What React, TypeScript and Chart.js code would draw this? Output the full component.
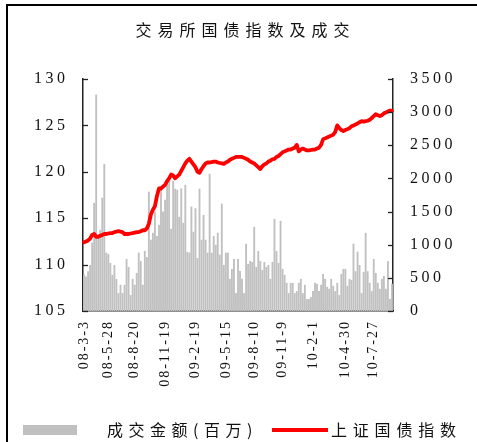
import React, { useEffect, useRef } from 'react';
import { Chart, registerables } from 'chart.js';

Chart.register(...registerables);

// x-axis tick labels (dates) and the category index at which each one sits
const tickLabels = ['08-3-3', '08-5-28', '08-8-20', '08-11-19', '09-2-19', '09-5-15', '09-8-10', '09-11-9', '10-2-1', '10-4-30', '10-7-27'];
const tickIndex = [0, 12, 25, 40, 55, 70, 84, 98, 113, 129, 143];

// 成交金额 (百万) — right axis
const turnover = [
  550, 520, 600, 695, 1030, 1630, 3265, 1130, 1225, 1710, 2220, 880, 860, 725, 545, 695, 485, 270, 395, 270,
  395, 785, 665, 240, 485, 395, 575, 880, 755, 395, 905, 815, 1800, 1075, 1180, 1500, 1130, 1300,
  1875, 1500, 1680, 1935, 1965, 1240, 1965, 1845, 1830, 1420, 1850, 1330, 1905, 890, 880, 1575, 1195, 1550,
  800, 1845, 1075, 1450, 1075, 880, 2070, 880, 1130, 1000, 1180, 850, 1620, 695, 880, 880, 485, 635, 785, 270,
  785, 605, 485, 270, 1015, 710, 755, 740, 1270, 665, 905, 755, 620, 740, 665, 695, 485, 740, 1390, 905,
  725, 1360, 635, 545, 425, 270, 425, 425, 270, 300, 425, 485, 270, 395, 180, 180, 210, 300, 425, 410,
  300, 395, 560, 485, 365, 335, 485, 380, 300, 425, 240, 560, 635, 635, 380, 485, 470, 1015, 600, 895,
  695, 270, 590, 1180, 600, 425, 300, 785, 575, 425, 335, 485, 530, 335, 755, 180, 410,
];

// 上证国债指数 — left axis
const bondIndex = [
  112.4, 112.5, 112.6, 112.8, 113.2, 113.3, 113.0, 113.0, 113.1, 113.2, 113.3, 113.3, 113.35, 113.4, 113.4, 113.5, 113.55, 113.6, 113.55, 113.5,
  113.3, 113.3, 113.3, 113.35, 113.4, 113.45, 113.5, 113.5, 113.6, 113.7, 113.7, 113.9, 114.4, 115.4, 115.9, 116.3, 117.4, 118.2,
  118.2, 118.4, 118.6, 119.0, 119.3, 119.7, 119.6, 119.3, 119.5, 119.7, 120.1, 120.5, 120.9, 121.2, 121.4, 121.1, 120.8, 120.5, 120.0, 119.9,
  120.3, 120.6, 120.9, 121.0, 121.0, 121.05, 121.1, 121.1, 121.0, 120.95, 120.9, 120.85, 121.0, 121.1, 121.3, 121.4, 121.5, 121.6,
  121.6, 121.6, 121.6, 121.5, 121.4, 121.3, 121.1, 121.0, 120.9, 120.7, 120.5, 120.3, 120.6, 120.8, 120.9, 121.1, 121.2, 121.35, 121.4, 121.6,
  121.7, 121.9, 122.1, 122.2, 122.3, 122.4, 122.4, 122.5, 122.6, 122.9, 122.2, 122.4, 122.5, 122.4, 122.3, 122.3, 122.35, 122.4,
  122.4, 122.5, 122.6, 122.9, 123.5, 123.6, 123.7, 123.8, 123.9, 124.0, 124.3, 125.0, 124.7, 124.5, 124.4, 124.5, 124.6, 124.7, 124.9, 125.0,
  125.1, 125.2, 125.35, 125.45, 125.4, 125.45, 125.5, 125.6, 125.8, 126.0, 126.2, 126.1, 126.0, 126.1, 126.3, 126.4, 126.5, 126.6, 126.6,
];

const categories = turnover.map((_, i) => {
  const j = tickIndex.indexOf(i);
  return j >= 0 ? tickLabels[j] : '';
});

const AXIS = '#222';
const TEXT = '#111';

const axisPlugin = {
  id: 'axisStyle',
  beforeDraw(chart: any) {
    chart.ctx.letterSpacing = '3.5px';
  },
  afterDatasetsDraw(chart: any) {
    chart.ctx.letterSpacing = '2px';
  },
  afterDraw(chart: any) {
    const ctx = chart.ctx;
    ctx.letterSpacing = '0px';
    const { left, right } = chart.chartArea;
    ctx.save();
    ctx.strokeStyle = AXIS;
    ctx.lineWidth = 1.3;
    const pairs: [string, number, number][] = [['y', left, 1], ['y1', right, -1]];
    for (const [id, x0, dir] of pairs) {
      const s = chart.scales[id];
      s.ticks.forEach((t: any) => {
        const y = Math.round(s.getPixelForValue(t.value)) + 0.5;
        ctx.beginPath();
        ctx.moveTo(x0, y);
        ctx.lineTo(x0 + dir * 5, y);
        ctx.stroke();
      });
    }
    ctx.restore();
  },
};

export default function App() {
  const ref = useRef<HTMLCanvasElement>(null);
  useEffect(() => {
    const chart = new Chart(ref.current as HTMLCanvasElement, {
      type: 'bar',
      data: {
        labels: categories,
        datasets: [
          {
            type: 'line',
            label: '上证国债指数',
            data: bondIndex,
            yAxisID: 'y',
            borderColor: '#ff0000',
            backgroundColor: '#ff0000',
            borderWidth: 3.8,
            pointRadius: 0,
            tension: 0,
            borderJoinStyle: 'round',
            borderCapStyle: 'round',
            order: 0,
          } as any,
          {
            type: 'bar',
            label: '成交金额(百万)',
            data: turnover,
            yAxisID: 'y1',
            backgroundColor: '#c0c0c0',
            barPercentage: 0.92,
            categoryPercentage: 1,
            order: 1,
          } as any,
        ],
      },
      options: {
        responsive: false,
        maintainAspectRatio: false,
        animation: false,
        devicePixelRatio: 1,
        layout: { padding: { top: 79, left: 0, right: 0, bottom: 0 } },
        plugins: {
          legend: { display: false },
          title: { display: false },
          tooltip: { enabled: false },
        },
        scales: {
          x: {
            grid: { display: false, drawTicks: false },
            border: { display: true, color: AXIS, width: 1.5 },
            ticks: {
              autoSkip: false,
              maxRotation: 90,
              minRotation: 90,
              padding: 9,
              color: TEXT,
              font: { family: 'Liberation Serif', size: 14 },
              z: 1,
            },
            afterFit: (s: any) => { s.height = 131; },
          },
          y: {
            position: 'left',
            min: 105,
            max: 130,
            grid: { display: false, drawTicks: false },
            border: { display: true, color: AXIS, width: 1.5 },
            ticks: {
              stepSize: 5,
              padding: 14.5,
              color: TEXT,
              font: { family: 'Liberation Serif', size: 16 },
              callback: (v: any) => String(v),
            },
            afterFit: (s: any) => { s.width = 83; },
          },
          y1: {
            position: 'right',
            min: 0,
            max: 3500,
            grid: { display: false, drawTicks: false },
            border: { display: true, color: AXIS, width: 1.5 },
            ticks: {
              stepSize: 500,
              padding: 17,
              color: TEXT,
              font: { family: 'Liberation Serif', size: 16 },
              callback: (v: any) => String(v),
            },
            afterFit: (s: any) => { s.width = 84; },
          },
        },
      } as any,
      plugins: [axisPlugin],
    });
    return () => chart.destroy();
  }, []);

  const cjk = '"Noto Sans CJK SC", sans-serif';
  return (
    <div style={{ position: 'fixed', left: 0, top: 0, width: 477, height: 442, overflow: 'hidden', background: '#fff' }}>
      <canvas ref={ref} width={477} height={442} style={{ position: 'absolute', left: 0, top: 0, display: 'block' }} />
      <div style={{ position: 'absolute', left: 6, top: 4, width: 469, height: 500, border: '2px solid #000', pointerEvents: 'none' }} />
      <div style={{ position: 'absolute', left: 0, top: 19, width: 477, paddingLeft: 14, boxSizing: 'border-box', textAlign: 'center', fontFamily: cjk, fontSize: 16, lineHeight: '20px', letterSpacing: 6, color: TEXT }}>
        交易所国债指数及成交
      </div>
      <div style={{ position: 'absolute', left: 23, top: 425, width: 54, height: 10, background: '#c0c0c0' }} />
      <div style={{ position: 'absolute', left: 107, top: 419, fontFamily: cjk, fontSize: 16, lineHeight: '20px', letterSpacing: 5.5, color: TEXT, whiteSpace: 'nowrap' }}>
        成交金额(百万)
      </div>
      <div style={{ position: 'absolute', left: 272, top: 428, width: 56, height: 3.5, background: '#ff0000' }} />
      <div style={{ position: 'absolute', left: 331, top: 419, fontFamily: cjk, fontSize: 16, lineHeight: '20px', letterSpacing: 5.8, color: TEXT, whiteSpace: 'nowrap' }}>
        上证国债指数
      </div>
    </div>
  );
}
